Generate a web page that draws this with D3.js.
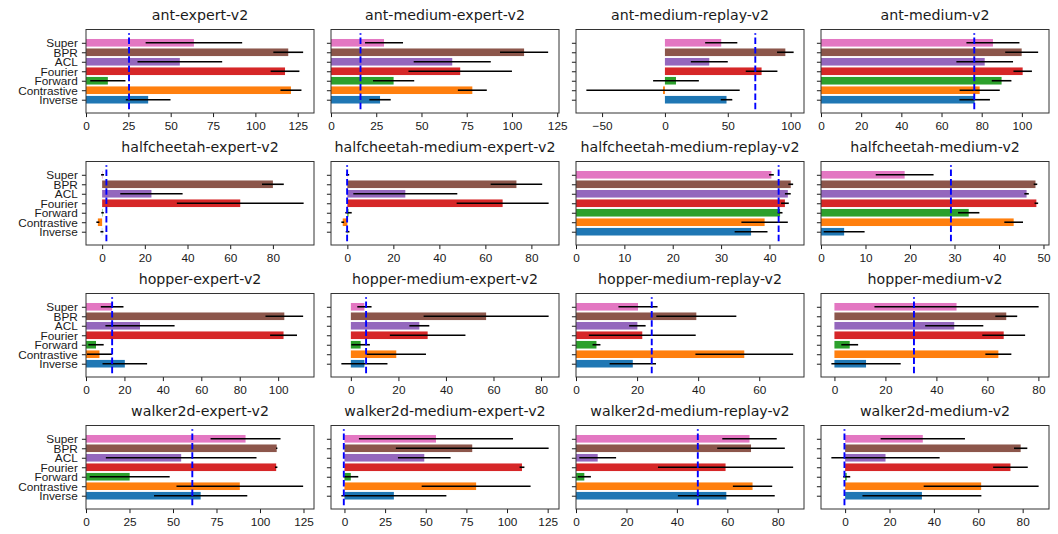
<!DOCTYPE html>
<html>
<head>
<meta charset="utf-8">
<script src="https://cdn.jsdelivr.net/npm/d3@7"></script>
<style>
  body { margin: 0; background: #fff; }
  svg { display: block; font-family: "DejaVu Sans", sans-serif; }
</style>
</head>
<body>
<svg id="chart" width="1058" height="534"></svg>
<script>
// methods, bottom to top
var methods = ["Inverse", "Contrastive", "Forward", "Fourier", "ACL", "BPR", "Super"];

var datasets = [
    "ant-expert-v2", "ant-medium-expert-v2", "ant-medium-replay-v2", "ant-medium-v2",
    "halfcheetah-expert-v2", "halfcheetah-medium-expert-v2", "halfcheetah-medium-replay-v2", "halfcheetah-medium-v2",
    "hopper-expert-v2", "hopper-medium-expert-v2", "hopper-medium-replay-v2", "hopper-medium-v2",
    "walker2d-expert-v2", "walker2d-medium-expert-v2", "walker2d-medium-replay-v2", "walker2d-medium-v2"
];

// mean score per method (same order as methods), one row per dataset
var means = [
    [36.7, 121, 12.9, 117.5, 55.4, 119.4, 63.7],
    [27.1, 78.1, 34.6, 71.4, 67, 106.7, 29.3],
    [49, -1.5, 8.8, 76.9, 35.3, 95.8, 44.8],
    [76.5, 79, 89.9, 100.4, 81.5, 99.9, 85.6],
    [-0.1, -2, 0.2, 64.7, 23.1, 80, 0.2],
    [0.1, -2, 0.5, 67.5, 25.2, 73.5, 0.1],
    [36.2, 39, 42.2, 43.2, 43.8, 44.4, 40.4],
    [5.2, 43.3, 33.2, 48.4, 46.2, 48.2, 18.8],
    [20.2, 7, 5.2, 102.8, 28.1, 103.2, 13.6],
    [5.7, 19.1, 4.1, 32.3, 28.8, 56.9, 5.7],
    [18.6, 55.1, 6.7, 21.7, 20.1, 39.4, 20.3],
    [12.4, 64.3, 6, 66.4, 47, 67.4, 47.9],
    [65.9, 88.4, 25.1, 109.3, 54.7, 109.6, 91.7],
    [30.4, 81, 3.9, 109.2, 49.1, 78.6, 56.3],
    [59.6, 70, 3.3, 59.3, 8.6, 69.4, 68.8],
    [34.6, 61.3, 0.7, 74.5, 18.2, 79.1, 35]
];

// error (std) per method
var errs = [
    [13.2, 6.2, 10.4, 8.5, 25, 8.8, 28.5],
    [5.9, 8, 11.4, 28.6, 21.3, 13.3, 10.5],
    [4.6, 61, 18.2, 12.6, 14.7, 6.6, 12.8],
    [7.6, 10, 4.9, 4.6, 14.1, 8.2, 13.2],
    [0.7, 0.7, 0.6, 29.7, 14.6, 5.1, 0.7],
    [0.8, 0.6, 1.4, 20, 22.6, 11.2, 0.7],
    [3.4, 4.8, 0.5, 0.8, 0.6, 0.5, 0.5],
    [4.6, 2.1, 2.4, 0.4, 0.5, 0.4, 6.5],
    [11.6, 6.5, 4, 7, 18, 9.8, 5.9],
    [9.7, 12.5, 3.9, 15.9, 4.2, 26.3, 3],
    [7.6, 16, 1.3, 17.5, 2.7, 13.1, 6.4],
    [13.6, 5.1, 3.3, 8.4, 11.4, 4.3, 32.2],
    [26.8, 36.4, 23, 0.7, 43.3, 0.4, 20.1],
    [32.3, 33.5, 4.6, 1.5, 16.2, 47, 47.4],
    [19.2, 7.8, 2.6, 26.8, 7.3, 13.4, 10.8],
    [26.8, 25.9, 1.6, 7.8, 24.4, 3, 19]
];

// dashed reference line per dataset
var baselines = [25.4, 16.3, 71.9, 76.3, 2.0, -0.1, 41.9, 29.2, 13.6, 6.4, 24.8, 31.2, 61.1, -0.4, 48.3, -0.3];

var xTicks = [
    [0, 25, 50, 75, 100, 125], [0, 25, 50, 75, 100, 125], [-50, 0, 50, 100], [0, 20, 40, 60, 80, 100],
    [0, 20, 40, 60, 80], [0, 20, 40, 60, 80], [0, 10, 20, 30, 40], [0, 10, 20, 30, 40, 50],
    [0, 20, 40, 60, 80, 100], [0, 20, 40, 60, 80], [0, 20, 40, 60], [0, 20, 40, 60, 80],
    [0, 25, 50, 75, 100, 125], [0, 25, 50, 75, 100, 125], [0, 20, 40, 60, 80], [0, 20, 40, 60, 80]
];

var colors = ["#1f77b4", "#ff7f0e", "#2ca02c", "#d62728", "#9467bd", "#8c564b", "#e377c2"];

var svg = d3.select("#chart");

var left0 = 86, colStep = 245, w = 228;
var top0 = 29.5, rowStep = 132, h = 83.5;
var tickLen = 4.1, tickPad = 4.1;

// autoscale like matplotlib: 5% margins, bars stick at zero
function xDomain(k) {
    var lo = 0, hi = 0;
    means[k].forEach(function (m, i) {
        lo = Math.min(lo, m - errs[k][i]);
        hi = Math.max(hi, m + errs[k][i]);
    });
    lo = Math.min(lo, baselines[k]);
    hi = Math.max(hi, baselines[k]);
    var r = hi - lo;
    var x0 = lo === 0 ? 0 : lo - 0.05 * r;
    var x1 = hi === 0 ? 0 : hi + 0.05 * r;
    return [x0, x1];
}

datasets.forEach(function (name, k) {
    var row = Math.floor(k / 4), col = k % 4;
    var ox = left0 + col * colStep, oy = top0 + row * rowStep;

    var x = d3.scaleLinear().domain(xDomain(k)).range([ox, ox + w]);
    var y = d3.scaleLinear().domain([-1.4, 7.4]).range([oy + h, oy]);

    var g = svg.append("g");

    var rows = methods.map(function (m, i) {
        return {i: i, mean: means[k][i], err: errs[k][i]};
    });

    //bars
    g.selectAll("rect.bar")
        .data(rows)
        .enter().append("rect")
        .attr("class", "bar")
        .attr("x", function (d) { return Math.min(x(0), x(d.mean)); })
        .attr("width", function (d) { return Math.abs(x(d.mean) - x(0)); })
        .attr("y", function (d) { return y(d.i + 0.4); })
        .attr("height", function (d) { return y(d.i - 0.4) - y(d.i + 0.4); })
        .attr("fill", function (d) { return colors[d.i]; });

    //error bars
    g.selectAll("line.err")
        .data(rows)
        .enter().append("line")
        .attr("class", "err")
        .attr("x1", function (d) { return x(d.mean - d.err); })
        .attr("x2", function (d) { return x(d.mean + d.err); })
        .attr("y1", function (d) { return y(d.i); })
        .attr("y2", function (d) { return y(d.i); })
        .attr("stroke", "#000")
        .attr("stroke-width", 1.6);

    //reference line
    g.append("line")
        .attr("x1", x(baselines[k]))
        .attr("x2", x(baselines[k]))
        .attr("y1", y(-1))
        .attr("y2", y(7))
        .attr("stroke", "#0000ff")
        .attr("stroke-width", 1.9)
        .attr("stroke-dasharray", "6.5,2.8");

    //axes
    var xAxis = g.append("g")
        .attr("transform", "translate(0," + (oy + h) + ")")
        .call(d3.axisBottom(x).tickValues(xTicks[k]).tickSize(tickLen).tickPadding(tickPad).tickFormat(d3.format("d")));

    var yAxis = g.append("g")
        .attr("transform", "translate(" + ox + ",0)")
        .call(d3.axisLeft(y).tickValues(d3.range(methods.length)).tickSize(tickLen).tickPadding(tickPad)
            .tickFormat(function (i) { return col === 0 ? methods[i] : ""; }));

    [xAxis, yAxis].forEach(function (a) {
        a.select(".domain").remove();
        a.selectAll(".tick line").attr("stroke", "#000").attr("stroke-width", 0.9);
        a.selectAll(".tick text").attr("fill", "#1a1a1a").style("font-size", "11.8px");
    });

    //frame
    g.append("rect")
        .attr("x", ox)
        .attr("y", oy)
        .attr("width", w)
        .attr("height", h)
        .attr("fill", "none")
        .attr("stroke", "#333")
        .attr("stroke-width", 1);

    //title
    g.append("text")
        .attr("x", ox + w / 2)
        .attr("y", oy - 9.8)
        .attr("text-anchor", "middle")
        .attr("fill", "#1a1a1a")
        .style("font-size", "14.2px")
        .text(name);
});
</script>
</body>
</html>
